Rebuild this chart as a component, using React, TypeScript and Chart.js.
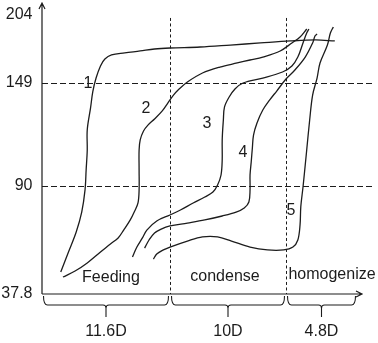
import React, { useEffect, useRef } from 'react';
import { Chart, LinearScale, LineController, LineElement, PointElement } from 'chart.js';

// ---- data ----
const Y_TICKS = [37.8, 90, 149, 204];
const DASH_Y = [149, 90];
const PHASES = ['Feeding', 'condense', 'homogenize'];
const PERIOD_DAYS = [11.6, 10, 4.8];
const PERIOD_LABELS = ['11.6D', '10D', '4.8D'];
const SERIES_NAMES = ['1', '2', '3', '4', '5'];

const C1_DAYS = [1.7, 2.4, 3.1, 3.6, 3.9, 4.0, 4.1, 4.1, 4.4, 4.6, 4.9, 5.3, 5.7, 6.3, 7.5, 8.9, 10.2, 11.6, 14.2, 16.8, 19.4, 21.9, 23.6, 24.9];
const C1_VALS = [48.4, 58.1, 67.8, 77.4, 88.1, 99.2, 110.6, 122.1, 134.7, 143.9, 153.0, 162.8, 168.4, 171.7, 173.3, 174.9, 176.5, 177.3, 178.1, 179.7, 181.4, 183.0, 183.8, 183.0];

const C2_DAYS = [1.9, 3.0, 4.1, 5.3, 6.2, 6.9, 7.4, 8.0, 8.4, 8.7, 8.8, 8.8, 8.8, 8.9, 9.2, 9.6, 10.2, 10.9, 11.4, 11.9, 12.3, 13.1, 14.4, 15.9, 17.4, 18.5, 19.6, 21.1, 22.0, 22.55, 23.0];
const C2_VALS = [46.0, 48.9, 52.8, 58.1, 62.0, 64.9, 68.7, 73.6, 77.9, 81.8, 88.1, 99.2, 110.6, 116.4, 121.5, 124.9, 128.4, 133.0, 137.5, 142.1, 145.0, 149.8, 157.1, 161.9, 165.2, 167.6, 170.0, 174.9, 181.4, 186.2, 192.7];

const C3_DAYS = [8.2, 8.6, 9.1, 9.5, 10.4, 11.6, 12.5, 13.6, 14.6, 15.3, 15.7, 16.0, 16.1, 16.1, 16.2, 16.3, 16.7, 17.2, 17.9, 19.6, 21.3, 22.0, 22.4, 22.75, 23.0, 23.15];
const C3_VALS = [55.7, 60.5, 64.9, 68.7, 73.1, 76.0, 78.4, 81.8, 84.7, 87.1, 90.6, 96.3, 104.9, 116.4, 127.8, 135.3, 141.0, 145.6, 149.0, 153.0, 157.9, 162.8, 170.0, 181.4, 189.4, 192.7];

const C4_DAYS = [9.3, 9.7, 10.2, 10.8, 11.6, 13.1, 14.6, 16.1, 17.3, 18.0, 18.4, 18.5, 18.5, 18.6, 18.7, 18.8, 19.1, 19.6, 20.2, 20.8, 21.6, 22.2, 22.9, 23.4, 23.56, 23.7];
const C4_VALS = [60.0, 63.9, 67.3, 69.2, 70.7, 72.1, 73.6, 75.5, 77.4, 79.4, 82.3, 88.1, 96.3, 103.7, 111.8, 119.2, 126.1, 133.5, 139.3, 144.4, 152.2, 159.5, 170.0, 181.4, 187.0, 188.6];

const C5_DAYS = [10.1, 10.4, 11.0, 11.6, 13.1, 14.4, 15.7, 16.9, 18.5, 20.0, 21.4, 22.07, 22.4, 22.55, 22.6, 22.75, 22.9, 23.0, 23.2, 23.4, 23.7, 23.9, 24.4, 24.6, 24.8];
const C5_VALS = [54.7, 57.1, 59.1, 60.5, 63.4, 65.4, 65.4, 63.4, 60.5, 59.1, 59.1, 60.5, 63.9, 71.2, 79.9, 89.5, 102.0, 110.6, 127.8, 142.1, 153.0, 165.2, 179.7, 189.4, 194.3];

const CURVE_DAYS = [C1_DAYS, C2_DAYS, C3_DAYS, C4_DAYS, C5_DAYS];
const CURVE_VALS = [C1_VALS, C2_VALS, C3_VALS, C4_VALS, C5_VALS];

const CURVE_LABEL_DAYS = [4.17, 9.43, 14.79, 17.89, 21.94];
const CURVE_LABEL_VALS = [148.4, 134.1, 125.8, 109.2, 77.9];
const PHASE_LABEL_DAYS = [6.25, 16.34, 24.71];
const PHASE_LABEL_VALS = [45.5, 46.0, 47.0];
const DASH_TOP_VAL = 201.6;

// ---- schematic (non-linear) axis layout ----
const X_BOUNDS = PERIOD_DAYS.reduce((acc, d) => [...acc, +(acc[acc.length - 1] + d).toFixed(2)], [0] as number[]);
const X_FRACS = [0, 0.4, 0.7625, 0.984375];
const Y_FRACS = [0, 0.37113, 0.72509, 0.95876];

const STOPS: Record<string, { vals: number[]; fracs: number[] }> = {
  x: { vals: X_BOUNDS, fracs: X_FRACS },
  y: { vals: Y_TICKS, fracs: Y_FRACS },
};

function toDecimal(v: number, vals: number[], fracs: number[]) {
  let i = 0;
  while (i < vals.length - 2 && v > vals[i + 1]) i++;
  const t = (v - vals[i]) / (vals[i + 1] - vals[i]);
  return fracs[i] + t * (fracs[i + 1] - fracs[i]);
}
function fromDecimal(d: number, vals: number[], fracs: number[]) {
  let i = 0;
  while (i < fracs.length - 2 && d > fracs[i + 1]) i++;
  const t = (d - fracs[i]) / (fracs[i + 1] - fracs[i]);
  return vals[i] + t * (vals[i + 1] - vals[i]);
}

class PiecewiseScale extends LinearScale {
  static id = 'piecewise';
  static defaults = LinearScale.defaults;
  getPixelForValue(value: any) {
    if (value === null || value === undefined || isNaN(value)) return NaN;
    const s = STOPS[(this as any).id];
    return this.getPixelForDecimal(toDecimal(value, s.vals, s.fracs));
  }
  getValueForPixel(pixel: number) {
    const s = STOPS[(this as any).id];
    return fromDecimal(this.getDecimalForPixel(pixel), s.vals, s.fracs);
  }
}

Chart.register(LineController, LineElement, PointElement, PiecewiseScale as any);

const INK = '#1c1c1c';
const FONT = '16px "Liberation Sans", Arial, sans-serif';

const decorPlugin = {
  id: 'decor',
  beforeDatasetsDraw(chart: any) {
    const { ctx, scales } = chart;
    const xs = scales.x, ys = scales.y;
    const x0 = xs.getPixelForValue(0);
    const y0 = ys.getPixelForValue(Y_TICKS[0]);
    const top = chart.chartArea.top;
    const right = chart.chartArea.right;
    ctx.save();
    ctx.strokeStyle = INK;
    // dashed horizontal
    ctx.lineWidth = 1.2;
    ctx.setLineDash([6, 3]);
    DASH_Y.forEach((v) => {
      const y = Math.round(ys.getPixelForValue(v)) + 0.5;
      ctx.beginPath();
      ctx.moveTo(x0, y);
      ctx.lineTo(chart.width - 6, y);
      ctx.stroke();
    });
    // dashed vertical
    ctx.lineWidth = 1;
    ctx.setLineDash([3, 2.5]);
    [X_BOUNDS[1], X_BOUNDS[2]].forEach((d) => {
      const x = Math.round(xs.getPixelForValue(d)) + 0.5;
      ctx.beginPath();
      ctx.moveTo(x, ys.getPixelForValue(DASH_TOP_VAL));
      ctx.lineTo(x, y0);
      ctx.stroke();
    });
    ctx.setLineDash([]);
    // axes
    ctx.lineWidth = 1.2;
    ctx.beginPath();
    ctx.moveTo(x0, y0);
    ctx.lineTo(x0, top);
    ctx.moveTo(x0 - 3, top + 6);
    ctx.lineTo(x0, top);
    ctx.lineTo(x0 + 3, top + 6);
    ctx.moveTo(x0, y0);
    ctx.lineTo(right, y0);
    ctx.moveTo(right - 6, y0 - 3);
    ctx.lineTo(right, y0);
    ctx.lineTo(right - 6, y0 + 3);
    ctx.stroke();
    ctx.restore();
  },
  afterDatasetsDraw(chart: any) {
    const { ctx, scales } = chart;
    const xs = scales.x, ys = scales.y;
    const y0 = ys.getPixelForValue(Y_TICKS[0]);
    ctx.save();
    ctx.fillStyle = INK;
    ctx.strokeStyle = INK;
    ctx.font = FONT;
    ctx.textBaseline = 'middle';
    // y tick labels
    ctx.textAlign = 'right';
    Y_TICKS.forEach((v) => {
      ctx.fillText(String(v), 32.5, ys.getPixelForValue(v));
    });
    ctx.textAlign = 'center';
    // curve labels
    SERIES_NAMES.forEach((n, i) => {
      ctx.fillText(n, xs.getPixelForValue(CURVE_LABEL_DAYS[i]), ys.getPixelForValue(CURVE_LABEL_VALS[i]));
    });
    // phase labels
    PHASES.forEach((p, i) => {
      ctx.fillText(p, xs.getPixelForValue(PHASE_LABEL_DAYS[i]), ys.getPixelForValue(PHASE_LABEL_VALS[i]));
    });
    // braces + period labels
    ctx.lineWidth = 1.1;
    for (let i = 0; i < PERIOD_DAYS.length; i++) {
      const a = xs.getPixelForValue(X_BOUNDS[i]) + 1.5;
      const b = xs.getPixelForValue(X_BOUNDS[i + 1]) - 1.5;
      const m = (a + b) / 2;
      const yt = y0 + 2, ym = y0 + 11, yk = y0 + 23;
      ctx.beginPath();
      ctx.moveTo(a, yt);
      ctx.quadraticCurveTo(a, ym, a + 4, ym);
      ctx.lineTo(m - 3, ym);
      ctx.quadraticCurveTo(m, ym, m, ym + 3);
      ctx.lineTo(m, yk);
      ctx.moveTo(m, ym + 3);
      ctx.quadraticCurveTo(m, ym, m + 3, ym);
      ctx.lineTo(b - 4, ym);
      ctx.quadraticCurveTo(b, ym, b, yt);
      ctx.stroke();
      ctx.fillText(PERIOD_LABELS[i], m, y0 + 38);
    }
    ctx.restore();
  },
};

export default function App() {
  const ref = useRef<HTMLCanvasElement>(null);
  useEffect(() => {
    if (!ref.current) return;
    const chart = new Chart(ref.current, {
      type: 'line',
      data: {
        datasets: CURVE_DAYS.map((days, k) => ({
          label: SERIES_NAMES[k],
          data: days.map((d, i) => ({ x: d, y: CURVE_VALS[k][i] })),
          borderColor: INK,
          borderWidth: 1.3,
          pointRadius: 0,
          tension: 0.35,
          fill: false,
          clip: false as any,
        })),
      },
      options: {
        animation: false,
        responsive: false,
        devicePixelRatio: 1,
        events: [],
        layout: { padding: { left: 42, right: 16, top: 3, bottom: 49 } },
        scales: {
          x: { type: 'piecewise' as any, display: false, min: 0, max: 26.74 },
          y: { type: 'piecewise' as any, display: false, min: 37.8, max: 213.7 },
        },
        plugins: { legend: { display: false }, tooltip: { enabled: false } } as any,
      },
      plugins: [decorPlugin],
    });
    return () => chart.destroy();
  }, []);
  return (
    <div style={{ position: 'fixed', left: 0, top: 0, width: 378, height: 343, background: '#fff' }}>
      <canvas ref={ref} width={378} height={343} style={{ width: 378, height: 343, display: 'block' }} />
    </div>
  );
}
